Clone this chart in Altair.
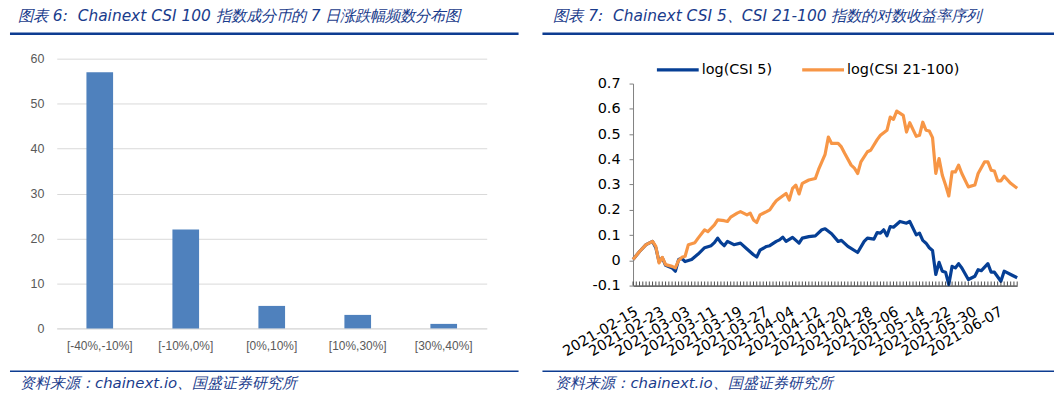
import altair as alt
import pandas as pd

# ---------------- data ----------------
bar_cats = ["[-40%,-10%]", "[-10%,0%]", "[0%,10%]", "[10%,30%]", "[30%,40%]"]
bar_vals = [57, 22, 5, 3, 1]

title_left = "图表 6:\u00a0 Chainext CSI 100 指数成分币的 7 日涨跌幅频数分布图"
title_right = "图表 7:\u00a0 Chainext CSI 5、CSI 21-100 指数的对数收益率序列"
source_text = "资料来源：chainext.io、国盛证券研究所"

series_names = ["log(CSI 5)", "log(CSI 21-100)"]
series_colors = ["#063F95", "#F79646"]

csi5_dates = [
    "2021-02-15", "2021-02-17", "2021-02-19", "2021-02-21", "2021-02-22", "2021-02-23",
    "2021-02-24", "2021-02-25", "2021-02-27", "2021-02-28", "2021-03-01", "2021-03-02",
    "2021-03-03", "2021-03-05", "2021-03-07", "2021-03-09", "2021-03-11", "2021-03-12",
    "2021-03-13", "2021-03-14", "2021-03-15", "2021-03-16", "2021-03-18", "2021-03-20",
    "2021-03-22", "2021-03-24", "2021-03-25", "2021-03-26", "2021-03-28", "2021-03-29",
    "2021-03-31", "2021-04-01", "2021-04-02", "2021-04-03", "2021-04-05", "2021-04-07",
    "2021-04-08", "2021-04-10", "2021-04-12", "2021-04-14", "2021-04-15", "2021-04-17",
    "2021-04-19", "2021-04-20", "2021-04-22", "2021-04-25", "2021-04-27", "2021-04-28",
    "2021-04-30", "2021-05-01", "2021-05-02", "2021-05-03", "2021-05-04", "2021-05-05",
    "2021-05-06", "2021-05-08", "2021-05-10", "2021-05-11", "2021-05-13", "2021-05-14",
    "2021-05-15", "2021-05-16", "2021-05-17", "2021-05-18", "2021-05-19", "2021-05-20",
    "2021-05-21", "2021-05-22", "2021-05-23", "2021-05-24", "2021-05-25", "2021-05-26",
    "2021-05-27", "2021-05-29", "2021-05-31", "2021-06-01", "2021-06-02", "2021-06-04",
    "2021-06-05", "2021-06-06", "2021-06-08", "2021-06-09", "2021-06-11", "2021-06-13",
]
csi5_vals = [
    0.003, 0.035, 0.062, 0.075, 0.050, -0.005,
    0.010, -0.020, -0.030, -0.043, 0.003, 0.008,
    -0.005, 0.003, 0.025, 0.050, 0.058, 0.070,
    0.088, 0.070, 0.058, 0.075, 0.062, 0.068,
    0.045, 0.022, 0.013, 0.040, 0.055, 0.058,
    0.075, 0.081, 0.092, 0.075, 0.091, 0.068,
    0.088, 0.094, 0.097, 0.121, 0.125, 0.105,
    0.075, 0.079, 0.055, 0.031, 0.075, 0.088,
    0.084, 0.110, 0.108, 0.121, 0.097, 0.134,
    0.131, 0.154, 0.147, 0.154, 0.101, 0.108,
    0.079, 0.068, 0.050, 0.039, -0.056, -0.008,
    -0.043, -0.047, -0.096, -0.024, -0.030, -0.013,
    -0.030, -0.076, -0.063, -0.037, -0.041, -0.013,
    -0.047, -0.047, -0.083, -0.043, -0.056, -0.069,
]

csi21_dates = [
    "2021-02-15", "2021-02-17", "2021-02-19", "2021-02-21", "2021-02-22", "2021-02-23",
    "2021-02-24", "2021-02-25", "2021-02-27", "2021-02-28", "2021-03-01", "2021-03-02",
    "2021-03-03", "2021-03-04", "2021-03-06", "2021-03-07", "2021-03-09", "2021-03-10",
    "2021-03-12", "2021-03-13", "2021-03-15", "2021-03-16", "2021-03-17", "2021-03-19",
    "2021-03-20", "2021-03-22", "2021-03-23", "2021-03-24", "2021-03-25", "2021-03-26",
    "2021-03-28", "2021-03-29", "2021-03-30", "2021-03-31", "2021-04-01", "2021-04-03",
    "2021-04-04", "2021-04-05", "2021-04-06", "2021-04-07", "2021-04-08", "2021-04-10",
    "2021-04-12", "2021-04-13", "2021-04-14", "2021-04-15", "2021-04-16", "2021-04-17",
    "2021-04-19", "2021-04-20", "2021-04-21", "2021-04-23", "2021-04-24", "2021-04-25",
    "2021-04-26", "2021-04-28", "2021-04-29", "2021-05-01", "2021-05-02", "2021-05-04",
    "2021-05-05", "2021-05-06", "2021-05-07", "2021-05-09", "2021-05-10", "2021-05-11",
    "2021-05-13", "2021-05-14", "2021-05-15", "2021-05-16", "2021-05-17", "2021-05-18",
    "2021-05-19", "2021-05-20", "2021-05-21", "2021-05-22", "2021-05-23", "2021-05-24",
    "2021-05-25", "2021-05-26", "2021-05-27", "2021-05-29", "2021-05-31", "2021-06-01",
    "2021-06-03", "2021-06-04", "2021-06-05", "2021-06-06", "2021-06-07", "2021-06-08",
    "2021-06-09", "2021-06-11", "2021-06-13",
]
csi21_vals = [
    0.003, 0.035, 0.062, 0.075, 0.055, -0.010,
    0.012, -0.017, -0.024, -0.030, 0.000, 0.012,
    0.016, 0.062, 0.070, 0.088, 0.121, 0.114,
    0.140, 0.160, 0.157, 0.154, 0.171, 0.187,
    0.193, 0.180, 0.187, 0.160, 0.150, 0.180,
    0.193, 0.200, 0.219, 0.236, 0.246, 0.265,
    0.239, 0.285, 0.298, 0.263, 0.305, 0.318,
    0.324, 0.360, 0.390, 0.420, 0.488, 0.463,
    0.463, 0.449, 0.424, 0.377, 0.365, 0.344,
    0.390, 0.430, 0.436, 0.478, 0.495, 0.515,
    0.567, 0.558, 0.591, 0.574, 0.508, 0.545,
    0.491, 0.495, 0.547, 0.515, 0.512, 0.486,
    0.344, 0.403, 0.337, 0.298, 0.255, 0.350,
    0.350, 0.377, 0.344, 0.291, 0.298, 0.344,
    0.390, 0.390, 0.357, 0.354, 0.315, 0.315,
    0.333, 0.305, 0.285,
]

label_dates = [
    "2021-02-15", "2021-02-23", "2021-03-03", "2021-03-11", "2021-03-19",
    "2021-03-27", "2021-04-04", "2021-04-12", "2021-04-20", "2021-04-28",
    "2021-05-06", "2021-05-14", "2021-05-22", "2021-05-30", "2021-06-07",
]
date_start = "2021-02-15"
date_end = "2021-06-13"
y_ticks_right = [-0.1, 0, 0.1, 0.2, 0.3, 0.4, 0.5, 0.6, 0.7]
y_ticks_left = [0, 10, 20, 30, 40, 50, 60]

# ---------------- styling ----------------
TITLE_COLOR = "#1A3C8C"
RULE_COLOR = "#0D3C91"
CN_FONT = "DejaVu Sans"
FONT_R = "DejaVu Sans"
FONT_L = "Liberation Sans"

def ms(d):
    return int(pd.Timestamp(d, tz="UTC").value // 10**6)

def one_row(text=""):
    return pd.DataFrame({"t": [text]})

def deco(title, x_title, x_rule0, x_rule1):
    # vertical positions are relative to the shared plot origin (page y = 58)
    t = alt.Chart(one_row(title)).mark_text(
        align="left", baseline="middle", font=CN_FONT, fontSize=15.5,
        fontStyle="italic", color=TITLE_COLOR,
    ).encode(text="t:N", x=alt.value(x_title), y=alt.value(-42.5))
    r1 = alt.Chart(one_row()).mark_rule(color=RULE_COLOR, strokeWidth=2.5).encode(
        x=alt.value(x_rule0), x2=alt.value(x_rule1), y=alt.value(-25))
    r2 = alt.Chart(one_row()).mark_rule(color=RULE_COLOR, strokeWidth=1.5).encode(
        x=alt.value(x_rule0), x2=alt.value(x_rule1), y=alt.value(314))
    s = alt.Chart(one_row(source_text)).mark_text(
        align="left", baseline="middle", font=CN_FONT, fontSize=15,
        fontStyle="italic", color=TITLE_COLOR,
    ).encode(text="t:N", x=alt.value(x_title + 2), y=alt.value(326))
    return [t, r1, r2, s]

# ---------------- left: bar chart ----------------
bar_df = pd.DataFrame({"cat": bar_cats, "val": bar_vals})
bars = alt.Chart(bar_df).mark_bar(color="#4F81BD").encode(
    x=alt.X("cat:N", sort=bar_cats, title=None,
            scale=alt.Scale(paddingInner=0.69, paddingOuter=0.345),
            axis=alt.Axis(labelAngle=0, ticks=False, domainColor="#D9D9D9",
                          labelColor="#595959", labelFont=FONT_L, labelFontSize=12,
                          labelPadding=12)),
    y=alt.Y("val:Q", title=None, scale=alt.Scale(domain=[0, 60], nice=False),
            axis=alt.Axis(values=y_ticks_left, grid=True, gridColor="#D9D9D9",
                          domain=False, ticks=False, labelColor="#595959",
                          labelFont=FONT_L, labelFontSize=12.5, labelPadding=13)),
)
left = alt.layer(bars, *deco(title_left, -39, -47, 464)).properties(width=432, height=271)

# ---------------- right: line chart ----------------
line_df = pd.concat([
    pd.DataFrame({"date": csi5_dates, "v": csi5_vals, "s": series_names[0]}),
    pd.DataFrame({"date": csi21_dates, "v": csi21_vals, "s": series_names[1]}),
])
label_ms = [ms(d) for d in label_dates]
x_scale = alt.Scale(type="utc", domain=[ms(date_start), ms(date_end)])
# plot area of the right panel: 0.7 at 25px, -0.1 at 228px below the shared origin
y_scale = alt.Scale(domain=[-0.1, 0.7], nice=False, zero=False, range=[228, 25])

x_axis = alt.Axis(values=label_ms, ticks=False, grid=False, domainColor="#000000",
                  labelExpr="utcFormat(datum.value, '%Y-%m-%d')",
                  labelAngle=330, labelAlign="right", labelBaseline="top",
                  labelPadding=19, labelOverlap=False, labelFont=FONT_R,
                  labelFontSize=14.5, labelColor="#000000", labelBound=False,
                  labelFlush=False, title=None)
y_axis = alt.Axis(values=y_ticks_right, grid=False, domainColor="#808080",
                  tickColor="#808080", tickSize=4, labelPadding=9,
                  labelOverlap=False,
                  labelExpr="toString(round(datum.value*10)/10)",
                  labelFont=FONT_R, labelFontSize=14.5, labelColor="#000000", title=None)

lines = alt.Chart(line_df).mark_line(strokeWidth=3.2, strokeJoin="round").encode(
    x=alt.X("date:T", scale=x_scale, axis=x_axis),
    y=alt.Y("v:Q", scale=y_scale, axis=y_axis),
    color=alt.Color("s:N", sort=series_names,
                    scale=alt.Scale(domain=series_names, range=series_colors),
                    legend=alt.Legend(orient="none", legendX=22, legendY=-12,
                                      direction="horizontal", title=None,
                                      symbolType="stroke", symbolSize=1764,
                                      symbolStrokeWidth=3.2, labelFont=FONT_R,
                                      labelFontSize=14.5, labelColor="#000000",
                                      columnPadding=23, labelOffset=1)),
)

tick_days = pd.date_range(date_start, date_end, freq="D").strftime("%Y-%m-%d").tolist()
minor = alt.Chart(pd.DataFrame({"d": tick_days})).mark_tick(
    color="#000000", size=4, thickness=1, yOffset=-2, orient="vertical").encode(
    x=alt.X("d:T", scale=x_scale, axis=x_axis), y=alt.Y(datum=-0.1, scale=y_scale, axis=y_axis))

right = alt.layer(lines, minor, *deco(title_right, -80, -91, 423)).properties(
    width=386, height=228)

chart = (
    alt.hconcat(left, right, spacing=20)
    .resolve_legend(color="independent")
    .properties(padding=0)
    .configure_view(stroke=None)
)

chart.save("out.html", embed_options={"renderer": "svg", "actions": False})
